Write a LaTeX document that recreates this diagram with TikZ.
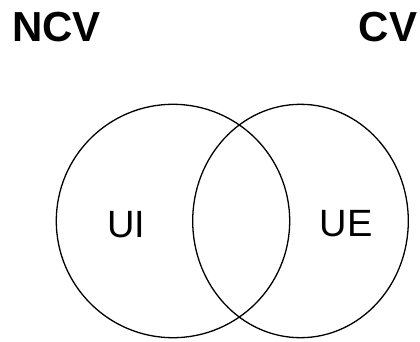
\documentclass[tikz,border=0pt]{standalone}
\usepackage{fontspec}
\setmainfont{Liberation Sans}
\usetikzlibrary{shapes.geometric}
\tikzset{
  setline/.style={draw=black, line width=1.3pt, inner sep=0pt, fill=none},
  title/.style={font=\fontsize{42}{42}\selectfont\bfseries, inner sep=0pt, anchor=base},
  region/.style={font=\fontsize{38}{38}\selectfont, inner sep=0pt, anchor=base},
}
\begin{document}
\begin{tikzpicture}[x=1pt, y=-1pt]
  \useasboundingbox[fill=white] (0,0) rectangle (420,342);
  % the two sets
  \node[setline, circle, minimum size=233.4pt] (left) at (173,221) {};
  \node[setline, ellipse, minimum width=215.6pt, minimum height=233.4pt] (right) at (300.5,221) {};
  % set titles
  \node[title] (ncv) at (56.5,41.7) {NCV};
  \node[title] (cv) at (388,41.7) {CV};
  % region labels
  \node[region] (ui) at (126.2,237.3) {UI};
  \node[region] (ue) at (346,236.5) {UE};
\end{tikzpicture}
\end{document}
